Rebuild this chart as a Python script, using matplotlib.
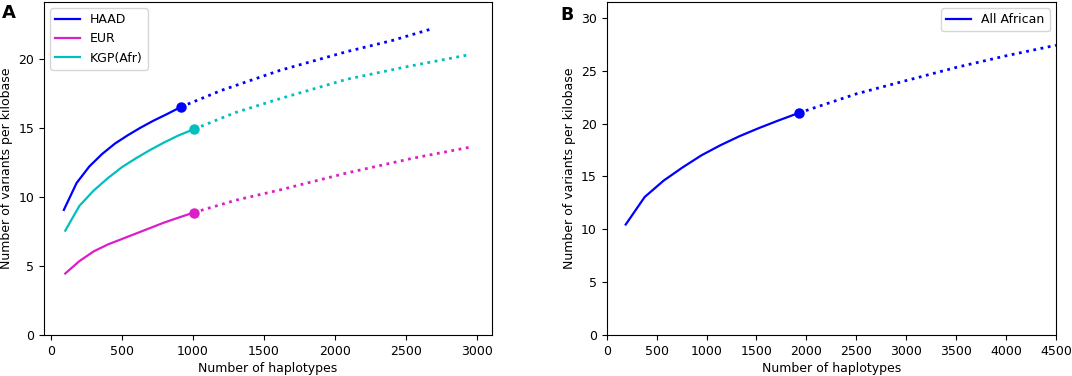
import matplotlib
matplotlib.use("Agg")
import matplotlib.pyplot as plt

# Panel A: observed (solid) and extrapolated (dotted) variant discovery
haad_x = [90, 180, 270, 360, 450, 540, 630, 720, 810, 915]
haad_y = [9.05, 11.0, 12.2, 13.1, 13.85, 14.45, 15.0, 15.5, 15.95, 16.5]
haad_ext_x = [915, 1200, 1613, 2082, 2400, 2664]
haad_ext_y = [16.5, 17.7, 19.15, 20.5, 21.3, 22.1]

eur_x = [100, 200, 300, 400, 500, 600, 700, 800, 900, 1005]
eur_y = [4.45, 5.35, 6.05, 6.55, 6.95, 7.35, 7.75, 8.15, 8.5, 8.86]
eur_ext_x = [1005, 1300, 1613, 2082, 2552, 2955]
eur_ext_y = [8.86, 9.75, 10.5, 11.72, 12.8, 13.6]

kgp_x = [100, 200, 300, 400, 500, 600, 700, 800, 900, 1008]
kgp_y = [7.55, 9.35, 10.45, 11.35, 12.15, 12.8, 13.4, 13.95, 14.45, 14.9]
kgp_ext_x = [1008, 1300, 1613, 2082, 2500, 2955]
kgp_ext_y = [14.9, 16.1, 17.1, 18.5, 19.4, 20.3]

# Panel B: all African haplotypes
afr_x = [190, 380, 570, 760, 950, 1140, 1330, 1520, 1710, 1925]
afr_y = [10.45, 13.05, 14.6, 15.85, 17.0, 17.95, 18.8, 19.55, 20.25, 21.0]
afr_ext_x = [1925, 2500, 2936, 3500, 4000, 4500]
afr_ext_y = [21.0, 22.8, 23.9, 25.3, 26.4, 27.4]

fig = plt.figure(figsize=(10.72, 3.76), dpi=100)
ax1 = fig.add_axes([0.041, 0.109, 0.418, 0.886])
ax2 = fig.add_axes([0.566, 0.109, 0.419, 0.886])

fs = 9
lw = 1.6
ms = 6.5
magenta = "#dc1ec8"

series = [
    ("HAAD", "b", haad_x, haad_y, haad_ext_x, haad_ext_y),
    ("EUR", magenta, eur_x, eur_y, eur_ext_x, eur_ext_y),
    ("KGP(Afr)", "c", kgp_x, kgp_y, kgp_ext_x, kgp_ext_y),
]
for name, col, x, y, ex, ey in series:
    ax1.plot(x, y, color=col, lw=lw, label=name)
    ax1.plot(ex, ey, color=col, lw=2, ls=":")
    ax1.plot(x[-1], y[-1], "o", color=col, ms=ms)

ax1.set_xlim(-50, 3105)
ax1.set_ylim(0, 24.1)
ax1.set_xticks([0, 500, 1000, 1500, 2000, 2500, 3000])
ax1.set_yticks([0, 5, 10, 15, 20])
ax1.set_xlabel("Number of haplotypes", fontsize=fs, labelpad=3)
ax1.set_ylabel("Number of variants per kilobase", fontsize=fs)
ax1.tick_params(labelsize=fs)
ax1.legend(loc="upper left", fontsize=fs)

ax2.plot(afr_x, afr_y, color="b", lw=lw, label="All African")
ax2.plot(afr_ext_x, afr_ext_y, color="b", lw=2, ls=":")
ax2.plot(afr_x[-1], afr_y[-1], "o", color="b", ms=ms)
ax2.set_xlim(0, 4500)
ax2.set_ylim(0, 31.5)
ax2.set_xticks(range(0, 4501, 500))
ax2.set_yticks([0, 5, 10, 15, 20, 25, 30])
ax2.set_xlabel("Number of haplotypes", fontsize=fs, labelpad=3)
ax2.set_ylabel("Number of variants per kilobase", fontsize=fs)
ax2.tick_params(labelsize=fs)
ax2.legend(loc="upper right", fontsize=fs)

fig.text(0.002, 0.99, "A", fontsize=13, fontweight="bold", va="top")
fig.text(0.523, 0.985, "B", fontsize=12.5, fontweight="bold", va="top")

fig.savefig("out.png", dpi=100)
